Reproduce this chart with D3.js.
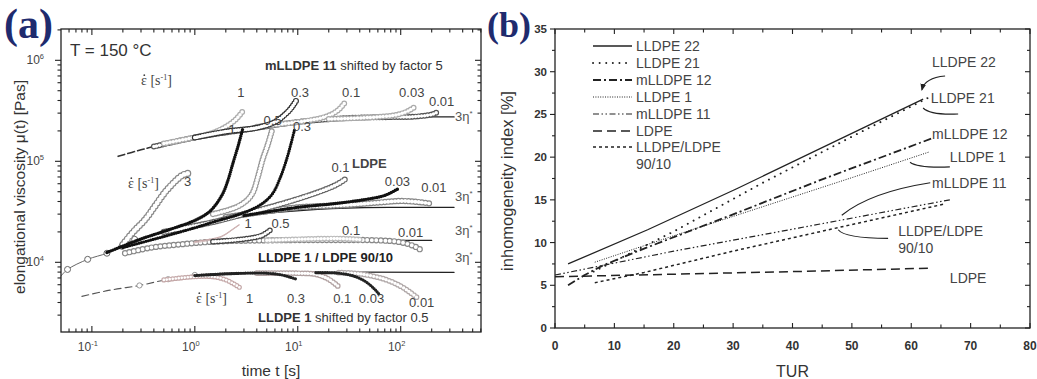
<!DOCTYPE html>
<html><head><meta charset="utf-8">
<script src="https://cdn.jsdelivr.net/npm/d3@7"></script>
<style>
body{margin:0;background:#fff}
svg{display:block}
svg{font-family:"Liberation Sans",Arial,sans-serif}
</style>
</head><body>
<svg id="c" width="1037" height="379"></svg>
<script>
// ================= DATA, panel (a): [t (s), mu (Pa s)] =================
// mLLDPE 11 (shifted by factor 5)
const m11Dash  = [[0.18,1.12e5],[0.3,1.3e5],[0.5,1.48e5],[1,1.72e5],[2,1.95e5],[3,2.05e5]];
const m11Eta   = [[90,2.75e5],[330,2.75e5]];
const m11R1    = [[0.5,1.5e5],[1,1.73e5],[1.5,1.92e5],[2,2.2e5],[2.5,2.6e5],[2.9,3.1e5]];
const m11R03   = [[1,1.72e5],[2,1.97e5],[4,2.15e5],[6,2.45e5],[7.5,2.9e5],[8.7,3.4e5],[9.8,4.1e5]];
const m11R01   = [[4,2.2e5],[10,2.45e5],[16,2.65e5],[21,2.9e5],[25,3.25e5],[28.6,3.8e5]];
const m11R003  = [[20,2.62e5],[50,2.72e5],[85,2.85e5],[110,3.05e5],[125,3.25e5],[137,3.45e5]];
const m11R001  = [[0.4,1.4e5],[1,1.72e5],[3,2.05e5],[10,2.45e5],[30,2.68e5],[80,2.74e5],[130,2.76e5],[180,2.85e5],[210,2.95e5],[225,3.05e5]];
// LDPE
const ldpeStart = [[0.05,7.3e3],[0.058,8.5e3],[0.091,1.07e4],[0.14,1.23e4],[0.196,1.44e4],[0.26,1.69e4]];
const ldpeEta   = [[1.3,2.32e4],[3,2.85e4],[8.4,3.2e4],[30,3.45e4],[100,3.5e4],[330,3.5e4]];
const ldpeR3    = [[0.2,1.5e4],[0.25,1.98e4],[0.33,2.66e4],[0.41,3.6e4],[0.51,4.9e4],[0.64,6.3e4],[0.76,7.3e4],[0.86,7.6e4]];
const ldpeR1    = [[0.14,1.25e4],[0.3,1.7e4],[0.6,2.15e4],[1.0,2.6e4],[1.4,3.2e4],[1.83,4.6e4],[2.1,6.5e4],[2.34,9.5e4],[2.65,1.45e5],[2.92,2.1e5]];
const ldpeR05   = [[1.5,3.0e4],[2.5,3.5e4],[3.2,4.1e4],[3.66,4.9e4],[4.1,7e4],[4.57,1.05e5],[5.1,1.45e5],[5.6,2.0e5]];
const ldpeR03   = [[0.2,1.4e4],[0.5,1.8e4],[1,2.2e4],[1.5,2.5e4],[3,3.1e4],[4.5,3.8e4],[5.7,4.8e4],[6.8,7e4],[7.8,1.05e5],[8.6,1.5e5],[9.35,2.1e5]];
const ldpeR01   = [[0.5,2.0e4],[1.5,2.5e4],[3,3.0e4],[7,3.8e4],[12,4.5e4],[18,5.2e4],[24,5.9e4],[28.6,6.6e4]];
const ldpeR003  = [[3,2.9e4],[10,3.5e4],[22,3.8e4],[46,4.2e4],[70,4.6e4],[93,5.3e4]];
const ldpeR001  = [[2,2.8e4],[5,3.2e4],[10,3.5e4],[30,3.7e4],[60,3.9e4],[100,4.05e4],[150,3.95e4],[200,3.8e4]];
// LLDPE 1 / LDPE 90/10
const bEta   = [[60,1.65e4],[200,1.65e4]];
const bR1    = [[1,1.6e4],[1.8,1.8e4],[2.3,2.1e4],[2.7,2.35e4]];
const bR05   = [[1.5,1.6e4],[3,1.7e4],[4.5,1.85e4],[5.6,2.15e4]];
const bR01   = [[5,1.65e4],[12,1.7e4],[25,1.72e4],[40,1.68e4]];
const bR001  = [[0.21,1.23e4],[0.38,1.4e4],[0.7,1.5e4],[1.5,1.6e4],[5,1.65e4],[20,1.66e4],[60,1.65e4],[100,1.58e4],[140,1.42e4],[165,1.28e4]];
// LLDPE 1 (shifted by factor 0.5)
const l1Dash = [[0.08,4.6e3],[0.15,5.3e3],[0.29,5.9e3],[0.55,6.8e3],[1,7.5e3]];
const l1Eta  = [[1,7.5e3],[2,7.8e3],[5,7.95e3],[330,7.95e3]];
const l1R1   = [[0.5,6.7e3],[1,7.2e3],[1.5,7.2e3],[2,6.7e3],[2.4,6.1e3],[2.75,5.6e3]];
const l1R03  = [[1,7.4e3],[3,7.8e3],[5,7.8e3],[7,7.5e3],[8.5,7.1e3],[9.8,6.8e3]];
const l1R01  = [[4,7.8e3],[10,7.8e3],[15,7.6e3],[20,6.8e3],[25.6,5.6e3]];
const l1R003 = [[15,7.9e3],[25,7.8e3],[35,7.3e3],[45,6.5e3],[55,5.5e3],[62,4.8e3]];
const l1R001 = [[25,7.9e3],[40,7.7e3],[70,6.8e3],[100,5.8e3],[125,5e3],[143,4.5e3]];

const aTicksX = [0.1,1,10,100];
const aTickLabX = [["10","-1"],["10","0"],["10","1"],["10","2"]];
const aTicksY = [1e4,1e5,1e6];
const aTickLabY = [["10","4"],["10","5"],["10","6"]];

// ================= DATA, panel (b) =================
const seriesB = ["LLDPE 22","LLDPE 21","mLLDPE 12","LLDPE 1","mLLDPE 11","LDPE","LLDPE/LDPE"];
const turL22  = [2.2,15.6,30.6,62];          const idxL22  = [7.5,11.5,16.3,26.8];
const turL21  = [6.5,20,35,50,63];           const idxL21  = [6.6,11.3,17.0,22.4,27.0];
const turM12  = [2.2,5,8,15,30,45,63.5];     const idxM12  = [5.0,6.2,7.3,9.3,13.3,17.4,22.2];
const turL1   = [6.7,20,35,50,63];           const idxL1   = [7.7,10.8,14.2,17.6,20.6];
const turM11  = [0,20,41,66.5];              const idxM11  = [6.2,9.0,11.7,15.0];
const turLDPE = [0,20,40,63];                const idxLDPE = [6.0,6.3,6.6,7.0];
const turBl   = [6.7,15,30,48,65.5];         const idxBl   = [5.3,6.5,9.0,11.8,14.5];
const bTicksX = [0,10,20,30,40,50,60,70,80];
const bTicksY = [0,5,10,15,20,25,30,35];

// ================= DRAWING =================
const SERIF = '"Liberation Serif","Times New Roman",serif';
const svg = d3.select('#c');
svg.append('rect').attr('width',1037).attr('height',379).attr('fill','#fff');

// ---------- panel (a) ----------
const xA = d3.scaleLog().domain([Math.pow(10,-1.3), Math.pow(10,2.78)]).range([61,481]);
const yA = d3.scaleLog().domain([Math.pow(10,3.31), Math.pow(10,6.31)]).range([332,29]);
const gA = svg.append('g');
const lA = d3.line().x(d=>xA(d[0])).y(d=>yA(d[1])).curve(d3.curveCatmullRom);

function plainLine(data, color, w, dash){
  const p = gA.append('path').attr('d',lA(data)).attr('fill','none')
    .attr('stroke',color).attr('stroke-width',w).attr('stroke-linecap','round');
  if(dash) p.attr('stroke-dasharray',dash);
  return p;
}
function ringChain(data, color, r, gap){
  gA.append('path').attr('d',lA(data)).attr('fill','none').attr('stroke',color)
    .attr('stroke-width',2*r+1.1).attr('stroke-linecap','round').attr('stroke-dasharray',`0,${gap}`);
  gA.append('path').attr('d',lA(data)).attr('fill','none').attr('stroke','#fff')
    .attr('stroke-width',Math.max(2*r-1.3,0.5)).attr('stroke-linecap','round').attr('stroke-dasharray',`0,${gap}`);
}
function dotChain(data, color, r, gap){
  gA.append('path').attr('d',lA(data)).attr('fill','none').attr('stroke',color)
    .attr('stroke-width',2*r).attr('stroke-linecap','round').attr('stroke-dasharray',`0,${gap}`);
}
function ringsAt(data, color, r){
  gA.selectAll(null).data(data).enter().append('circle')
    .attr('cx',d=>xA(d[0])).attr('cy',d=>yA(d[1])).attr('r',r)
    .attr('fill','#fff').attr('stroke',color).attr('stroke-width',1);
}

plainLine(m11Dash,'#333',1.6,'7,3');
plainLine(m11Eta,'#222',1.3);
plainLine(ldpeStart,'#666',1);
plainLine(ldpeEta,'#222',1.3);
plainLine(bEta,'#222',1.3);
plainLine(l1Dash,'#555',1.1,'7,4');
plainLine(l1Eta,'#222',1.3);

// mLLDPE 11
ringChain(m11R001,'#555',2.4,3);
ringChain(m11R1,'#aaa',2.4,3.2);
ringChain(m11R01,'#aaa',2.4,3.2);
ringChain(m11R003,'#aaa',2.4,3.2);
ringChain(m11R03,'#333',2.5,2.6);
// LDPE
ringsAt(ldpeStart.slice(1),'#666',3);
ringChain(ldpeR001,'#888',2.6,3.4);
ringChain(ldpeR01,'#666',2.5,3);
ringChain(ldpeR3,'#888',3,3.6);
ringChain(ldpeR05,'#999',2.5,3);
dotChain(ldpeR03,'#111',1.6,2.4);
dotChain(ldpeR1,'#111',1.7,2.2);
dotChain(ldpeR003,'#111',1.7,2.2);
// 90/10
ringChain(bR001,'#888',2.6,4.5);
ringChain(bR01,'#bbb',2.3,3.2);
plainLine(bR1,'#c9a9a9',1.2);
gA.append('path').attr('d',lA(bR1.map(d=>[d[0]*0.96,d[1]*0.97]))).attr('fill','none').attr('stroke','#d0b8b8').attr('stroke-width',1);
ringChain(bR05,'#444',2.3,2.8);
// LLDPE 1
ringsAt(l1Dash.slice(2),'#999',2.6);
ringChain(l1R1,'#c4a8a8',2,3);
ringChain(l1R01,'#b0a0a0',2.3,3);
ringChain(l1R001,'#b0a8a8',2.3,3.2);
dotChain(l1R03,'#222',1.6,2.3);
dotChain(l1R003,'#222',1.6,2.3);

// frame + ticks (a)
gA.append('rect').attr('x',61).attr('y',29).attr('width',420).attr('height',303)
  .attr('fill','none').attr('stroke','#222').attr('stroke-width',1.3);
const minorX=[], minorY=[];
for(let e=-2;e<=2;e++) for(let m=1;m<10;m++){const v=m*Math.pow(10,e); if(v>=xA.domain()[0]&&v<=xA.domain()[1]) minorX.push({v,maj:m===1});}
for(let e=3;e<=6;e++) for(let m=1;m<10;m++){const v=m*Math.pow(10,e); if(v>=yA.domain()[0]&&v<=yA.domain()[1]) minorY.push({v,maj:m===1});}
minorX.forEach(t=>{
  const x=xA(t.v), L=t.maj?6:3.5;
  gA.append('line').attr('x1',x).attr('x2',x).attr('y1',332).attr('y2',332-L).attr('stroke','#222').attr('stroke-width',1.1);
  gA.append('line').attr('x1',x).attr('x2',x).attr('y1',29).attr('y2',29+L).attr('stroke','#222').attr('stroke-width',1.1);
});
minorY.forEach(t=>{
  const y=yA(t.v), L=t.maj?6:3.5;
  gA.append('line').attr('x1',61).attr('x2',61-L).attr('y1',y).attr('y2',y).attr('stroke','#222').attr('stroke-width',1.1);
  gA.append('line').attr('x1',481).attr('x2',481-L).attr('y1',y).attr('y2',y).attr('stroke','#222').attr('stroke-width',1.1);
});
aTicksX.forEach((v,i)=>{
  const t=gA.append('text').attr('x',xA(v)-4).attr('y',351).attr('text-anchor','middle').attr('font-size',12).attr('fill','#444');
  t.append('tspan').text(aTickLabX[i][0]);
  t.append('tspan').attr('dy',-5).attr('font-size',7.5).text(aTickLabX[i][1]);
});
aTicksY.forEach((v,i)=>{
  const t=gA.append('text').attr('x',44).attr('y',yA(v)+4).attr('text-anchor','end').attr('font-size',12).attr('fill','#444');
  t.append('tspan').text(aTickLabY[i][0]);
  t.append('tspan').attr('dy',-5).attr('font-size',7.5).text(aTickLabY[i][1]);
});
gA.append('text').attr('x',271).attr('y',376).attr('text-anchor','middle').attr('font-size',15.5).attr('fill','#333').text('time t [s]');
gA.append('text').attr('transform','translate(25,187) rotate(-90)').attr('text-anchor','middle').attr('font-size',15.5).attr('fill','#333')
  .text('elongational viscosity μ(t) [Pas]');
gA.append('text').attr('x',4).attr('y',38).style('font-family',SERIF).attr('font-weight','bold').attr('font-size',42).attr('fill','#1f2b6e').text('(a)');
gA.append('text').attr('x',70).attr('y',56).attr('font-size',17).attr('fill','#333').text('T = 150 °C');

function txt(x,y,s,opt={}){
  const t=gA.append('text').attr('x',x).attr('y',y).attr('font-size',opt.fs||13).attr('fill',opt.c||'#444');
  if(opt.anchor) t.attr('text-anchor',opt.anchor);
  if(opt.bold) t.attr('font-weight','bold');
  t.text(s); return t;
}
function rateLabel(x,y){
  const t=gA.append('text').attr('x',x).attr('y',y).attr('font-size',14).attr('fill','#444').style('font-family',SERIF);
  t.append('tspan').text('ε [s');
  t.append('tspan').attr('dy',-5).attr('font-size',8).text('-1');
  t.append('tspan').attr('dy',5).text(']');
  // the dot over epsilon, drawn as a small circle
  gA.append('circle').attr('cx',x+3.3).attr('cy',y-9.8).attr('r',0.9).attr('fill','#444');
}
function etaLabel(x,y){
  const t=gA.append('text').attr('x',x).attr('y',y).attr('font-size',13).attr('fill','#555');
  t.append('tspan').text('3η');
  t.append('tspan').attr('dy',-5).attr('font-size',8).text('*');
}
// mLLDPE 11
const t1=gA.append('text').attr('x',265).attr('y',70).attr('font-size',13).attr('fill','#333');
t1.append('tspan').attr('font-weight','bold').text('mLLDPE 11');
t1.append('tspan').text('  shifted by factor 5');
rateLabel(141,85);
[[xA(2.8),'1'],[xA(10.5),'0.3'],[xA(33),'0.1'],[xA(128),'0.03']].forEach(d=>txt(d[0],97,d[1],{anchor:'middle'}));
txt(xA(250),106,'0.01',{anchor:'middle'});
etaLabel(455,121);
// LDPE
txt(xA(2.3),134,'1',{anchor:'middle'});
txt(xA(5.7),125,'0.5',{anchor:'middle'});
txt(xA(11),131,'0.3',{anchor:'middle'});
txt(xA(26),172,'0.1',{anchor:'middle'});
txt(352,168,'LDPE',{bold:true});
txt(xA(93),186,'0.03',{anchor:'middle'});
txt(xA(210),192,'0.01',{anchor:'middle'});
rateLabel(128,188);
txt(184,186,'3');
etaLabel(455,201);
// 90/10
txt(xA(3.3),228,'1',{anchor:'middle'});
txt(xA(6.8),228,'0.5',{anchor:'middle'});
txt(xA(33),235,'0.1',{anchor:'middle'});
txt(xA(125),237,'0.01',{anchor:'middle'});
etaLabel(455,235);
txt(258,262,'LLDPE 1 / LDPE 90/10',{bold:true,c:'#222'});
etaLabel(455,262);
// LLDPE 1
rateLabel(196,303);
[[xA(3.4),'1'],[xA(9.6),'0.3'],[xA(27),'0.1'],[xA(52),'0.03']].forEach(d=>txt(d[0],303,d[1],{anchor:'middle'}));
txt(xA(160),307,'0.01',{anchor:'middle'});
const t2=gA.append('text').attr('x',258).attr('y',322).attr('font-size',13).attr('fill','#333');
t2.append('tspan').attr('font-weight','bold').text('LLDPE 1');
t2.append('tspan').text(' shifted by factor 0.5');

// ---------- panel (b) ----------
const xB = d3.scaleLinear().domain([0,80]).range([555,1030]);
const yB = d3.scaleLinear().domain([0,35]).range([328,29]);
const gB = svg.append('g');
const lB = d3.line().x(d=>xB(d[0])).y(d=>yB(d[1]));
const bData = [
  {name:seriesB[0], tur:turL22, idx:idxL22},
  {name:seriesB[1], tur:turL21, idx:idxL21},
  {name:seriesB[2], tur:turM12, idx:idxM12},
  {name:seriesB[3], tur:turL1, idx:idxL1},
  {name:seriesB[4], tur:turM11, idx:idxM11},
  {name:seriesB[5], tur:turLDPE, idx:idxLDPE},
  {name:seriesB[6], tur:turBl, idx:idxBl}
];
const bStyle = [
  {w:1.3, dash:null},
  {w:1.9, dash:'0.1,6.5', cap:'round'},
  {w:1.8, dash:'8,3,2,3'},
  {w:1.0, dash:'1,1.4'},
  {w:1.2, dash:'6,2.5,1.5,2.5,1.5,2.5'},
  {w:1.5, dash:'9,5'},
  {w:1.5, dash:'3,3'}
];
bData.forEach((s,i)=>{
  const pts = s.tur.map((t,j)=>[t,s.idx[j]]);
  const p=gB.append('path').attr('d',lB(pts)).attr('fill','none').attr('stroke','#222').attr('stroke-width',bStyle[i].w);
  if(bStyle[i].dash) p.attr('stroke-dasharray',bStyle[i].dash);
  if(bStyle[i].cap) p.attr('stroke-linecap',bStyle[i].cap);
});
const legRows=[50,67,84,101,118,135,151];
bData.forEach((s,i)=>{
  const y=legRows[i];
  const p=gB.append('line').attr('x1',593).attr('x2',632).attr('y1',y-4).attr('y2',y-4).attr('stroke','#222').attr('stroke-width',bStyle[i].w);
  if(bStyle[i].dash) p.attr('stroke-dasharray',bStyle[i].dash);
  if(bStyle[i].cap) p.attr('stroke-linecap',bStyle[i].cap);
  gB.append('text').attr('x',636).attr('y',y+1).attr('font-size',14).attr('fill','#444').text(s.name);
});
gB.append('text').attr('x',636).attr('y',169).attr('font-size',14).attr('fill','#444').text('90/10');

gB.append('rect').attr('x',555).attr('y',29).attr('width',475).attr('height',299)
  .attr('fill','none').attr('stroke','#222').attr('stroke-width',1.3);
for(let v=0; v<=80; v+=5){
  const x=xB(v), L=(v%10===0)?5:3.5;
  gB.append('line').attr('x1',x).attr('x2',x).attr('y1',328).attr('y2',328-L).attr('stroke','#222').attr('stroke-width',1.1);
  gB.append('line').attr('x1',x).attr('x2',x).attr('y1',29).attr('y2',29+L).attr('stroke','#222').attr('stroke-width',1.1);
}
for(let v=0; v<=35; v+=2.5){
  const y=yB(v), L=(v%5===0)?5:3;
  gB.append('line').attr('x1',555).attr('x2',555-L).attr('y1',y).attr('y2',y).attr('stroke','#222').attr('stroke-width',1.1);
  gB.append('line').attr('x1',1030).attr('x2',1030-L).attr('y1',y).attr('y2',y).attr('stroke','#222').attr('stroke-width',1.1);
}
bTicksX.forEach(v=>gB.append('text').attr('x',xB(v)).attr('y',350).attr('text-anchor','middle').attr('font-size',12).attr('font-weight','bold').attr('fill','#333').text(v));
bTicksY.forEach(v=>gB.append('text').attr('x',547).attr('y',yB(v)+4).attr('text-anchor','end').attr('font-size',11.5).attr('font-weight','bold').attr('fill','#333').text(v));
gB.append('text').attr('x',xB(40)).attr('y',377).attr('text-anchor','middle').attr('font-size',16).attr('fill','#333').text('TUR');
gB.append('text').attr('transform','translate(513,181) rotate(-90)').attr('text-anchor','middle').attr('font-size',16.5).attr('fill','#333').text('inhomogeneity index [%]');
gB.append('text').attr('x',487).attr('y',37).style('font-family',SERIF).attr('font-weight','bold').attr('font-size',36).attr('fill','#1f2b6e').text('(b)');

const bLabels = [
  [63.5,30.5,'LLDPE 22'],[63.3,26.3,'LLDPE 21'],[63.5,22.1,'mLLDPE 12'],[66.5,19.4,'LLDPE 1'],
  [63.5,16.4,'mLLDPE 11'],[57.8,10.8,'LLDPE/LDPE'],[57.8,8.8,'90/10'],[66.5,5.3,'LDPE']
];
bLabels.forEach(d=>gB.append('text').attr('x',xB(d[0])).attr('y',yB(d[1])).attr('font-size',14).attr('fill','#444').text(d[2]));
const leaders = [
  [[65.7,29.5],[62.3,29.3],[61.8,27.9],true],
  [[62.0,25.75],[63.2,24.9],[67.9,25.05],false],
  [[59.8,19.4],[61.1,18.7],[66.5,18.85],false],
  [[63.2,17.0],[53.1,15.9],[48.3,13.2],false],
  [[47.7,11.5],[48.8,10.5],[56.1,10.5],false]
];
svg.append('defs').append('marker').attr('id','ah').attr('viewBox','0 0 10 10').attr('refX',8).attr('refY',5)
  .attr('markerWidth',6).attr('markerHeight',6).attr('orient','auto')
  .append('path').attr('d','M0,1 L10,5 L0,9 Z').attr('fill','#222');
leaders.forEach(L=>{
  const p=d3.path();
  p.moveTo(xB(L[0][0]),yB(L[0][1]));
  p.quadraticCurveTo(xB(L[1][0]),yB(L[1][1]),xB(L[2][0]),yB(L[2][1]));
  const e=gB.append('path').attr('d',p.toString()).attr('fill','none').attr('stroke','#222').attr('stroke-width',1.2);
  if(L[3]) e.attr('marker-end','url(#ah)');
});
</script>
</body></html>
